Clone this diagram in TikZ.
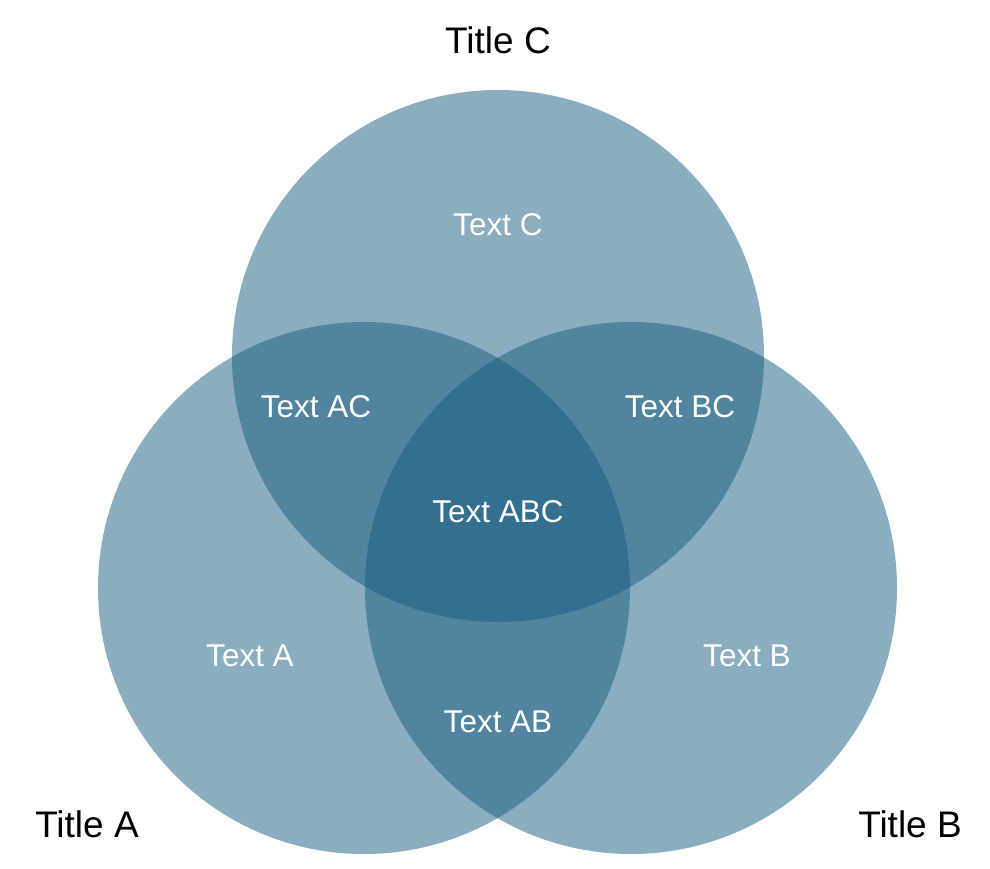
\documentclass[tikz,border=0pt]{standalone}
\usepackage{fontspec}
\setmainfont{Liberation Sans}
\definecolor{venn}{RGB}{23,92,128}
\begin{document}
\begin{tikzpicture}[x=1pt,y=-1pt,
  setcircle/.style={fill=venn,fill opacity=0.5,draw=none},
  inlabel/.style={text=white,font=\fontsize{31.5}{38}\selectfont,inner sep=0pt},
  titlelabel/.style={text=black,font=\fontsize{37}{44}\selectfont,inner sep=0pt}]
\useasboundingbox (0,0) rectangle (990,869);
\fill[white] (0,0) rectangle (990,869);
\fill[setcircle] (364,588) circle[radius=266];
\fill[setcircle] (631,588) circle[radius=266];
\fill[setcircle] (498,356) circle[radius=266];
\node[titlelabel] (tc) at (498,40) {Title C};
\node[titlelabel] (ta) at (87,824) {Title A};
\node[titlelabel] (tb) at (910,824) {Title B};
\node[inlabel] (c) at (498,225) {Text C};
\node[inlabel] (ac) at (316,407) {Text AC};
\node[inlabel] (bc) at (680,407) {Text BC};
\node[inlabel] (abc) at (498,512) {Text ABC};
\node[inlabel] (a) at (250,656) {Text A};
\node[inlabel] (b) at (747,656) {Text B};
\node[inlabel] (ab) at (498,722) {Text AB};
\end{tikzpicture}
\end{document}
